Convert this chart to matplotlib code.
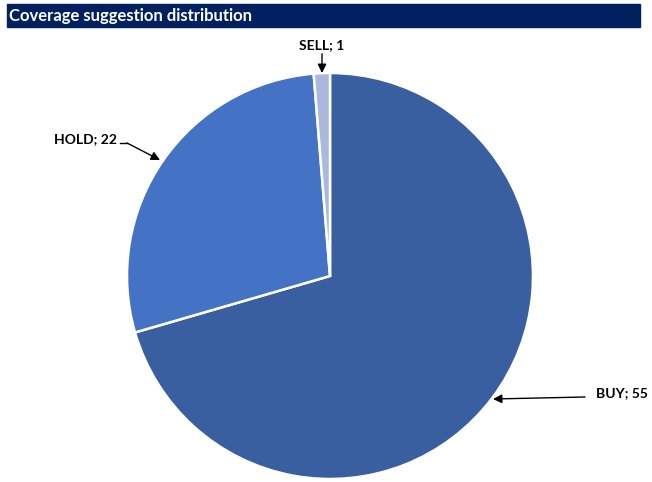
import matplotlib.pyplot as plt
from matplotlib.patches import Rectangle

labels = ['BUY', 'HOLD', 'SELL']
values = [55, 22, 1]
colors = ['#3A5FA0', '#4472C4', '#A9B9DE']

plt.rcParams['font.family'] = ['Lato', 'DejaVu Sans']

W, H = 652, 482
fig = plt.figure(figsize=(W / 100, H / 100), dpi=100)
ax = fig.add_axes([0, 0, 1, 1])
ax.set_xlim(0, W)
ax.set_ylim(0, H)
ax.set_aspect('equal')
ax.axis('off')

# title bar
fig.patches.append(Rectangle((7 / W, 1 - 27 / H), 633 / W, 23 / H,
                             transform=fig.transFigure, color='#002060', zorder=0))
fig.text(9 / W, 1 - 15.5 / H, 'Coverage suggestion distribution', color='white',
         fontsize=12, fontweight='bold', va='center', ha='left')

wedges, _ = ax.pie(values, colors=colors, startangle=90, counterclock=False,
                   center=(330, H - 276), radius=203,
                   wedgeprops=dict(edgecolor='white', linewidth=1.8))
ax.set_xlim(0, W)
ax.set_ylim(0, H)

arrow = dict(arrowstyle='-|>', color='black', lw=1, mutation_scale=13, shrinkA=0, shrinkB=0)
lab = {l: f'{l}; {v}' for l, v in zip(labels, values)}
ax.annotate(lab['SELL'], xy=(322, H - 73), xytext=(322, H - 45), ha='center', va='center',
            fontsize=10, fontweight='bold', arrowprops=arrow)
ax.text(86, H - 139, lab['HOLD'], ha='center', va='center', fontsize=10, fontweight='bold')
ax.plot([120, 127], [H - 143, H - 143], color='black', lw=1)
ax.annotate('', xy=(160, H - 160), xytext=(127, H - 143), arrowprops=arrow)
ax.text(622, H - 393, lab['BUY'], ha='center', va='center', fontsize=10, fontweight='bold')
ax.annotate('', xy=(493, H - 399), xytext=(585, H - 397), arrowprops=arrow)

fig.savefig('out.png', dpi=100)
